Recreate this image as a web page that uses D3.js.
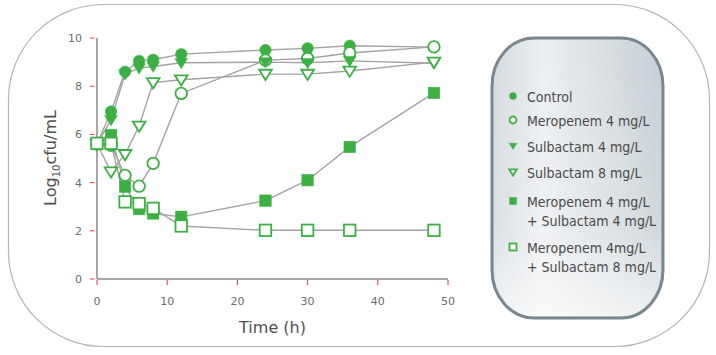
<!DOCTYPE html>
<html>
<head>
<meta charset="utf-8">
<script src="https://cdn.jsdelivr.net/npm/d3@7"></script>
<style>
  body { margin: 0; background: #fff; }
  svg { display: block; }
</style>
</head>
<body>
<div id="chart"></div>
<script>
// time points (h)
const times = [0, 2, 4, 6, 8, 12, 24, 30, 36, 48];

// log10 cfu/mL per treatment
const control      = [5.6, 6.95, 8.6, 9.05, 9.1, 9.33, 9.5, 9.57, 9.68, 9.62];
const mero4        = [5.6, 5.55, 4.3, 3.85, 4.8, 7.7, 9.08, 9.15, 9.38, 9.63];
const sulb4        = [5.6, 6.6, 8.5, 8.75, 8.82, 8.97, 9.0, 8.97, 9.05, 8.95];
const sulb8        = [5.6, 4.45, 5.17, 6.35, 8.15, 8.27, 8.5, 8.5, 8.63, 9.0];
const mero4sulb4   = [5.6, 5.97, 3.83, 2.9, 2.72, 2.58, 3.25, 4.1, 5.48, 7.72];
const mero4sulb8   = [5.63, 5.63, 3.2, 3.13, 2.93, 2.2, 2.02, 2.02, 2.02, 2.02];

const seriesNames = [
  ["Control"],
  ["Meropenem 4 mg/L"],
  ["Sulbactam 4 mg/L"],
  ["Sulbactam 8 mg/L"],
  ["Meropenem 4 mg/L", "+ Sulbactam 4 mg/L"],
  ["Meropenem 4mg/L", "+ Sulbactam 8 mg/L"]
];
const seriesValues = [control, mero4, sulb4, sulb8, mero4sulb4, mero4sulb8];
const seriesShapes = ["circle", "circle", "triangle", "triangle", "square", "square"];
const seriesFilled = [true, false, true, false, true, false];

const xTicks = [0, 10, 20, 30, 40, 50];
const yTicks = [0, 2, 4, 6, 8, 10];

const W = 716, H = 355;
const green = "#3bb143";
const lineGray = "#a3a3a3";

const svg = d3.select("#chart").append("svg")
  .attr("width", W)
  .attr("height", H);

// outer frame
svg.append("rect")
  .attr("x", 8.5).attr("y", 4.5)
  .attr("width", 701).attr("height", 342)
  .attr("rx", 95).attr("ry", 95)
  .attr("fill", "#fff")
  .attr("stroke", "#b4b4b4")
  .attr("stroke-width", 1.2);

const x = d3.scaleLinear().domain([0, 50]).range([97, 448]);
const y = d3.scaleLinear().domain([0, 10]).range([279, 38]);

// axes
const g = svg.append("g");
g.append("line")
  .attr("x1", x(0)).attr("x2", x(0))
  .attr("y1", y(10)).attr("y2", y(0))
  .attr("stroke", "#a8a8a8").attr("stroke-width", 2);
g.append("line")
  .attr("x1", x(0)).attr("x2", x(50))
  .attr("y1", y(0)).attr("y2", y(0))
  .attr("stroke", "#a8a8a8").attr("stroke-width", 2);

g.selectAll(".ytick").data(yTicks).enter().append("line")
  .attr("x1", x(0) - 7).attr("x2", x(0) - 2.5)
  .attr("y1", d => y(d)).attr("y2", d => y(d))
  .attr("stroke", "#e0383e").attr("stroke-width", 1);
g.selectAll(".ylab").data(yTicks).enter().append("text")
  .attr("x", x(0) - 15).attr("y", d => y(d) + 4)
  .attr("text-anchor", "end")
  .attr("font-family", "DejaVu Sans")
  .attr("font-size", 11)
  .attr("fill", "#6d6d6d")
  .text(d => d);

g.selectAll(".xtick").data(xTicks).enter().append("line")
  .attr("x1", d => x(d)).attr("x2", d => x(d))
  .attr("y1", y(0) + 1).attr("y2", y(0) + 6)
  .attr("stroke", "#e0383e").attr("stroke-width", 1);
g.selectAll(".xlab").data(xTicks).enter().append("text")
  .attr("x", d => x(d)).attr("y", y(0) + 26)
  .attr("text-anchor", "middle")
  .attr("font-family", "DejaVu Sans")
  .attr("font-size", 11)
  .attr("fill", "#6d6d6d")
  .text(d => d);

// axis titles
svg.append("text")
  .attr("x", (x(0) + x(50)) / 2).attr("y", 333)
  .attr("text-anchor", "middle")
  .attr("font-family", "DejaVu Sans")
  .attr("font-size", 16)
  .attr("fill", "#505050")
  .text("Time (h)");

const yTitle = svg.append("text")
  .attr("transform", "translate(56,158) rotate(-90)")
  .attr("text-anchor", "middle")
  .attr("font-family", "DejaVu Sans")
  .attr("font-size", 16)
  .attr("fill", "#505050");
yTitle.append("tspan").text("Log");
yTitle.append("tspan").attr("font-size", 10).attr("dy", 4).text("10");
yTitle.append("tspan").attr("dy", -4).text("cfu/mL");

// marker drawing
function drawMarker(sel, shape, filled, s) {
  let m;
  if (shape === "circle") {
    m = sel.append("circle").attr("r", s * 0.5);
  } else if (shape === "square") {
    m = sel.append("rect")
      .attr("x", -s * 0.5).attr("y", -s * 0.5)
      .attr("width", s).attr("height", s);
  } else {
    const h = s * 0.85;
    m = sel.append("path")
      .attr("d", `M${-s * 0.55},${-h * 0.45}L${s * 0.55},${-h * 0.45}L0,${h * 0.6}Z`);
  }
  m.attr("fill", filled ? green : "#fff")
    .attr("stroke", green)
    .attr("stroke-width", filled ? 0.5 : 1.8);
  return m;
}

const line = d3.line()
  .x((d, i) => x(times[i]))
  .y(d => y(d));

// lines first
seriesValues.forEach(vals => {
  svg.append("path")
    .attr("d", line(vals))
    .attr("fill", "none")
    .attr("stroke", lineGray)
    .attr("stroke-width", 1.4);
});

// then markers
seriesValues.forEach((vals, si) => {
  vals.forEach((v, i) => {
    const mg = svg.append("g")
      .attr("transform", `translate(${x(times[i])},${y(v)})`);
    drawMarker(mg, seriesShapes[si], seriesFilled[si], 11.5);
  });
});

// legend pill
const defs = svg.append("defs");
const grad = defs.append("linearGradient")
  .attr("id", "pill").attr("x1", "0").attr("x2", "1").attr("y1", "0").attr("y2", "0");
grad.append("stop").attr("offset", "0").attr("stop-color", "#d3dadf");
grad.append("stop").attr("offset", "0.3").attr("stop-color", "#eceff1");
grad.append("stop").attr("offset", "1").attr("stop-color", "#c6cfd4");
const grad2 = defs.append("linearGradient")
  .attr("id", "pillv").attr("x1", "0").attr("x2", "0").attr("y1", "0").attr("y2", "1");
grad2.append("stop").attr("offset", "0").attr("stop-color", "#fff").attr("stop-opacity", 0);
grad2.append("stop").attr("offset", "0.7").attr("stop-color", "#fff").attr("stop-opacity", 0.2);
grad2.append("stop").attr("offset", "1").attr("stop-color", "#fff").attr("stop-opacity", 0.7);

const lg = svg.append("g");
lg.append("rect")
  .attr("x", 492).attr("y", 38)
  .attr("width", 171).attr("height", 280)
  .attr("rx", 42).attr("ry", 48)
  .attr("fill", "url(#pill)")
  .attr("stroke", "#7a878e")
  .attr("stroke-width", 3);
lg.append("rect")
  .attr("x", 494).attr("y", 40)
  .attr("width", 167).attr("height", 276)
  .attr("rx", 40).attr("ry", 46)
  .attr("fill", "url(#pillv)");

const legendY = [97, 121, 147, 173, 202, 248];
seriesNames.forEach((lines, si) => {
  const ly = legendY[si];
  const mg = lg.append("g").attr("transform", `translate(513,${ly - 1})`);
  drawMarker(mg, seriesShapes[si], seriesFilled[si], 7);
  lines.forEach((t, k) => {
    lg.append("text")
      .attr("x", 527)
      .attr("y", ly + 5 + k * 19)
      .attr("font-family", "DejaVu Sans Condensed, DejaVu Sans")
      .attr("font-stretch", "condensed")
      .attr("font-size", 14)
      .attr("fill", "#4a4a4a")
      .text(t);
  });
});
</script>
</body>
</html>
